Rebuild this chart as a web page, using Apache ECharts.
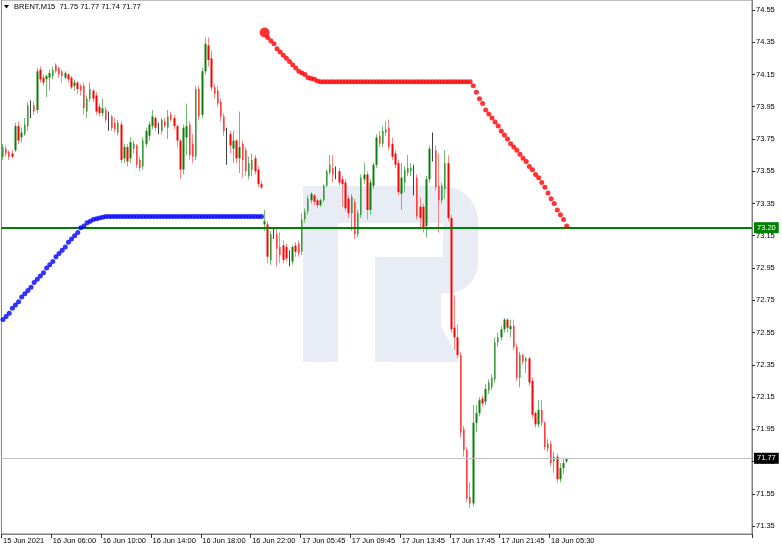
<!DOCTYPE html>
<html><head><meta charset="utf-8">
<script src="https://cdn.jsdelivr.net/npm/echarts@6/dist/echarts.min.js"></script>
<style>html,body{margin:0;padding:0;background:#fff}#c{width:782px;height:550px}</style>
</head><body><div id="c"></div>
<script>
const symbolName = 'BRENT,M15';
const timeLabels = ['15 Jun 2021','16 Jun 06:00','16 Jun 10:00','16 Jun 14:00','16 Jun 18:00','16 Jun 22:00','17 Jun 05:45','17 Jun 09:45','17 Jun 13:45','17 Jun 17:45','17 Jun 21:45','18 Jun 05:30'];
const barsPerLabel = 16;
const totalSlots = 241;
const priceTicks = [71.35,71.55,71.75,71.95,72.15,72.35,72.55,72.75,72.95,73.15,73.35,73.55,73.75,73.95,74.15,74.35,74.55];
const levelLine = 73.20;
const lastPrice = 71.77;

const opens = [73.64,73.69,73.67,73.66,73.68,73.83,73.76,73.78,73.83,73.95,73.96,73.93,74.18,74.13,74.12,74.13,74.14,74.21,74.19,74.17,
74.13,74.15,74.13,74.08,74.10,74.08,74.08,73.92,74.00,74.05,74.02,73.95,73.91,73.93,73.88,73.89,73.85,73.79,73.84,73.63,
73.70,73.63,73.69,73.71,73.62,73.58,73.72,73.77,73.83,73.88,73.82,73.80,73.86,73.82,73.90,73.88,73.83,73.74,73.56,73.76,
73.84,73.72,73.64,74.06,73.90,74.17,74.33,74.25,74.07,74.05,73.98,73.89,73.78,73.78,73.69,73.74,73.63,73.72,73.68,73.52,
73.56,73.63,73.56,73.47,73.22,73.22,73.00,73.16,73.16,73.08,73.09,73.08,73.00,72.99,73.09,73.10,73.05,73.25,73.30,73.37,
73.40,73.37,73.34,73.37,73.46,73.54,73.57,73.54,73.55,73.50,73.48,73.38,73.29,73.36,73.16,73.28,73.50,73.53,73.31,73.46,
73.59,73.77,73.72,73.79,73.82,73.72,73.66,73.60,73.41,73.48,73.54,73.55,73.51,73.51,73.33,73.33,73.21,73.50,73.69,73.68,
73.46,73.37,73.44,73.60,73.26,72.58,72.52,72.41,71.95,71.82,71.53,71.49,71.99,72.05,72.14,72.12,72.19,72.21,72.26,72.49,
72.52,72.57,72.63,72.57,72.59,72.46,72.27,72.41,72.37,72.39,72.25,72.05,71.98,72.07,71.99,71.83,71.86,71.75,71.78,71.64,
71.71,71.75];
const highs = [73.72,73.71,73.68,73.68,73.85,73.86,73.82,73.88,73.98,73.99,73.98,74.19,74.20,74.15,74.15,74.18,74.20,74.22,74.20,74.18,
74.17,74.16,74.14,74.12,74.11,74.09,74.10,74.02,74.10,74.06,74.04,73.97,74.00,73.95,73.92,73.90,73.88,73.87,73.86,73.72,
73.72,73.76,73.74,73.72,73.64,73.76,73.82,73.86,73.93,73.89,73.85,73.88,73.88,73.93,73.92,73.90,73.84,73.75,73.84,73.97,
73.86,73.78,74.08,74.08,74.19,74.38,74.38,74.30,74.09,74.08,74.00,73.91,73.82,73.80,73.80,73.75,73.92,73.74,73.70,73.64,
73.66,73.65,73.58,73.49,73.31,73.24,73.18,73.20,73.20,73.17,73.12,73.10,73.06,73.09,73.11,73.12,73.29,73.32,73.40,73.42,
73.41,73.38,73.38,73.47,73.56,73.65,73.65,73.58,73.57,73.52,73.50,73.40,73.41,73.38,73.31,73.53,73.60,73.55,73.50,73.60,
73.78,73.80,73.83,73.86,73.87,73.76,73.68,73.62,73.60,73.58,73.65,73.60,73.59,73.53,73.39,73.35,73.52,73.71,73.79,73.71,
73.66,73.48,73.68,73.65,73.28,72.78,72.60,72.43,71.97,71.84,71.62,72.10,72.10,72.15,72.16,72.23,72.26,72.29,72.52,72.55,
72.59,72.64,72.64,72.63,72.63,72.48,72.43,72.42,72.40,72.40,72.27,72.06,72.13,72.13,72.00,71.89,71.88,71.81,71.80,71.74,
71.77,71.77];
const lows = [73.62,73.64,73.62,73.63,73.67,73.72,73.73,73.77,73.80,73.88,73.90,73.91,74.10,74.08,74.01,74.05,74.12,74.16,74.13,74.10,
74.12,74.10,74.06,74.05,74.03,74.02,73.90,73.88,73.98,73.98,73.90,73.89,73.89,73.85,73.80,73.80,73.79,73.77,73.60,73.60,
73.58,73.60,73.66,73.57,73.55,73.56,73.70,73.74,73.81,73.80,73.78,73.78,73.82,73.75,73.86,73.81,73.70,73.50,73.53,73.65,
73.62,73.60,73.62,73.87,73.88,74.15,74.20,74.05,74.00,73.95,73.86,73.77,73.59,73.66,73.60,73.60,73.54,73.51,73.52,73.50,
73.52,73.53,73.45,73.44,73.18,72.98,72.97,73.13,72.96,72.98,72.98,72.99,72.96,72.97,73.02,73.02,73.03,73.23,73.28,73.35,
73.34,73.32,73.33,73.36,73.45,73.53,73.48,73.50,73.46,73.33,73.30,73.26,73.18,73.13,73.14,73.26,73.47,73.25,73.28,73.44,
73.57,73.70,73.70,73.77,73.68,73.62,73.57,73.40,73.31,73.42,73.52,73.52,73.40,73.25,73.20,73.17,73.14,73.48,73.61,73.43,
73.17,73.35,73.38,73.24,72.55,72.44,72.39,71.90,71.78,71.50,71.46,71.47,71.93,72.03,72.09,72.10,72.17,72.19,72.24,72.46,
72.50,72.55,72.55,72.52,72.44,72.25,72.21,72.35,72.30,72.22,72.02,71.96,71.96,71.97,71.82,71.81,71.72,71.68,71.62,71.62,
71.67,71.74];
const closes = [73.70,73.66,73.64,73.64,73.83,73.74,73.79,73.84,73.96,73.95,73.92,74.17,74.12,74.10,74.14,74.16,74.18,74.17,74.15,74.14,
74.16,74.12,74.07,74.10,74.06,74.05,73.94,74.00,74.06,74.00,73.92,73.91,73.94,73.87,73.88,73.82,73.81,73.85,73.62,73.70,
73.61,73.73,73.72,73.59,73.57,73.74,73.80,73.84,73.89,73.82,73.82,73.87,73.83,73.89,73.87,73.83,73.74,73.56,73.82,73.83,
73.65,73.64,74.06,73.89,74.17,74.34,74.24,74.07,74.03,73.97,73.89,73.80,73.78,73.71,73.74,73.63,73.70,73.62,73.55,73.60,
73.62,73.55,73.47,73.45,73.24,73.02,73.16,73.16,73.07,73.03,73.00,73.01,73.00,73.08,73.05,73.04,73.25,73.30,73.38,73.41,
73.36,73.34,73.37,73.46,73.55,73.59,73.53,73.54,73.48,73.47,73.32,73.29,73.39,73.16,73.29,73.51,73.53,73.31,73.48,73.59,
73.76,73.72,73.80,73.81,73.70,73.64,73.59,73.42,73.51,73.56,73.57,73.57,73.51,73.27,73.26,73.20,73.50,73.69,73.69,73.45,
73.37,73.46,73.60,73.26,72.57,72.52,72.41,71.93,71.82,71.52,71.49,71.99,72.05,72.13,72.11,72.20,72.24,72.27,72.49,72.52,
72.57,72.63,72.58,72.59,72.46,72.27,72.41,72.37,72.39,72.24,72.04,71.98,72.07,71.99,71.84,71.86,71.74,71.78,71.64,71.71,
71.74,71.77];
const sarBlue = [72.63,72.65,72.67,72.70,72.72,72.74,72.77,72.79,72.81,72.83,72.86,72.88,72.90,72.92,72.95,72.97,72.99,73.02,73.04,73.06,
73.08,73.11,73.13,73.15,73.17,73.20,73.21,73.23,73.24,73.25,73.255,73.26,73.265,73.27,73.27,73.27,73.27,73.27,73.27,73.27,
73.27,73.27,73.27,73.27,73.27,73.27,73.27,73.27,73.27,73.27,73.27,73.27,73.27,73.27,73.27,73.27,73.27,73.27,73.27,73.27,
73.27,73.27,73.27,73.27,73.27,73.27,73.27,73.27,73.27,73.27,73.27,73.27,73.27,73.27,73.27,73.27,73.27,73.27,73.27,73.27,
73.27,73.27,73.27,73.27];
const sarRed = [74.41,74.38,74.36,74.34,74.31,74.29,74.27,74.25,74.23,74.21,74.19,74.17,74.16,74.15,74.13,74.125,74.12,74.11,
74.105,74.105,74.105,74.105,74.105,74.105,74.105,74.105,74.105,74.105,74.105,74.105,74.105,74.105,74.105,74.105,74.105,74.105,74.105,74.105,
74.105,74.105,74.105,74.105,74.105,74.105,74.105,74.105,74.105,74.105,74.105,74.105,74.105,74.105,74.105,74.105,74.105,74.105,74.105,74.105,
74.105,74.105,74.105,74.105,74.105,74.105,74.105,74.105,74.105,
74.08,74.04,74.00,73.97,73.93,73.905,73.88,73.855,73.83,73.80,73.775,73.75,73.72,73.70,73.68,73.655,73.63,73.61,73.58,73.56,
73.53,73.51,73.48,73.45,73.415,73.38,73.35,73.31,73.28,73.25,73.21];

const yMin = 71.3004, yMax = 74.612;
const FONT = 'Liberation Sans';

const categories = Array.from({length: totalSlots}, (_, i) => String(i));
const wickData = opens.map((o, i) => [o, closes[i], lows[i], highs[i]]);
const bodyData = opens.map((o, i) => [o, closes[i], Math.min(o, closes[i]), Math.max(o, closes[i])]);
const blueData = sarBlue.map((v, i) => [i, v]);
const redData = sarRed.map((v, i) => [i + sarBlue.length, v]);
const showTick = (i) => i % barsPerLabel === 0 && i / barsPerLabel < timeLabels.length;
const n = opens.length - 1;
const header = symbolName + '  ' + [opens[n], highs[n], lows[n], closes[n]].map(v => v.toFixed(2)).join(' ');

// watermark logo geometry (decoration)
function arcPts(cx, cy, r, a0, a1, steps) {
  const pts = [];
  for (let k = 0; k <= steps; k++) {
    const a = a0 + (a1 - a0) * k / steps;
    pts.push([cx + r * Math.cos(a), cy + r * Math.sin(a)]);
  }
  return pts;
}
const WM = '#e8ecf4';
const bowl = [[303, 186]]
  .concat(arcPts(443, 221, 35, -Math.PI / 2, 0, 12))
  .concat(arcPts(448, 263, 30, 0, Math.PI / 2, 12))
  .concat([[375, 293], [375, 257], [443, 257], [443, 223], [303, 223]]);

const chart = echarts.init(document.getElementById('c'));
chart.setOption({
  animation: false,
  backgroundColor: '#fff',
  grid: {left: 1, right: 30, top: 0, bottom: 16, show: true, borderColor: '#808080', borderWidth: 1, backgroundColor: 'transparent'},
  xAxis: {
    type: 'category', data: categories, boundaryGap: true,
    axisLine: {show: true, lineStyle: {color: '#808080'}},
    axisTick: {show: true, interval: showTick, length: 4, lineStyle: {color: '#303030'}},
    axisLabel: {interval: showTick, formatter: (v) => timeLabels[Math.round(Number(v) / barsPerLabel)] || '', align: 'left', color: '#000', fontSize: 7.5, fontFamily: FONT, margin: 3},
    splitLine: {show: false}
  },
  yAxis: {
    type: 'value', position: 'right', min: yMin, max: yMax,
    axisLine: {show: true, lineStyle: {color: '#808080'}},
    axisTick: {show: true, customValues: priceTicks, length: 3, lineStyle: {color: '#303030'}},
    axisLabel: {customValues: priceTicks, formatter: v => v.toFixed(2), color: '#000', fontSize: 7.5, fontFamily: FONT, margin: 4},
    splitLine: {show: false}
  },
  graphic: [
    {type: 'rect', z: 0, silent: true, shape: {x: 303, y: 186, width: 35, height: 176}, style: {fill: WM}},
    {type: 'polygon', z: 0, silent: true, shape: {points: bowl}, style: {fill: WM}},
    {type: 'polygon', z: 0, silent: true, shape: {points: [[375, 292], [441, 292], [441, 326], [460, 362], [375, 362]]}, style: {fill: WM}},
    {type: 'polygon', z: 10, silent: true, shape: {points: [[4, 5], [9, 5], [6.5, 8.5]]}, style: {fill: '#000'}},
    {type: 'text', z: 10, silent: true, style: {text: header, x: 14, y: 7, fill: '#000', font: '7.5px ' + FONT, verticalAlign: 'middle'}}
  ],
  series: [
    {type: 'candlestick', data: wickData, barWidth: 1, z: 3, silent: true,
     itemStyle: {color: '#74bb74', color0: '#ff8484', borderColor: '#74bb74', borderColor0: '#ff8484', borderColorDoji: '#404040', borderWidth: 1}},
    {type: 'candlestick', data: bodyData, barWidth: 2, z: 4, silent: true,
     itemStyle: {color: '#0a800a', color0: '#ff0000', borderColor: '#0a800a', borderColor0: '#ff0000', borderColorDoji: 'rgba(0,0,0,0)', borderWidth: 0}},
    {type: 'scatter', data: blueData, symbolSize: 5, z: 5, silent: true, itemStyle: {color: '#0000ff'}},
    {type: 'scatter', data: redData, symbolSize: (v, p) => p.dataIndex === 0 ? 10 : 5, z: 5, silent: true, itemStyle: {color: '#ff0000'}},
    {type: 'line', data: [], z: 6, silent: true,
     markLine: {symbol: 'none', silent: true, animation: false, data: [
       {yAxis: levelLine, lineStyle: {color: '#008000', width: 2, type: 'solid'},
        label: {show: true, position: 'end', formatter: levelLine.toFixed(2), backgroundColor: '#008000', color: '#fff', padding: [2, 3, 1, 3], distance: 2, fontSize: 7.5, fontFamily: FONT}},
       {yAxis: lastPrice, lineStyle: {color: '#c0c0c0', width: 1, type: 'solid'},
        label: {show: true, position: 'end', formatter: lastPrice.toFixed(2), backgroundColor: '#000', color: '#fff', padding: [2, 3, 1, 3], distance: 2, fontSize: 7.5, fontFamily: FONT}}
     ]}}
  ]
});
</script></body></html>
